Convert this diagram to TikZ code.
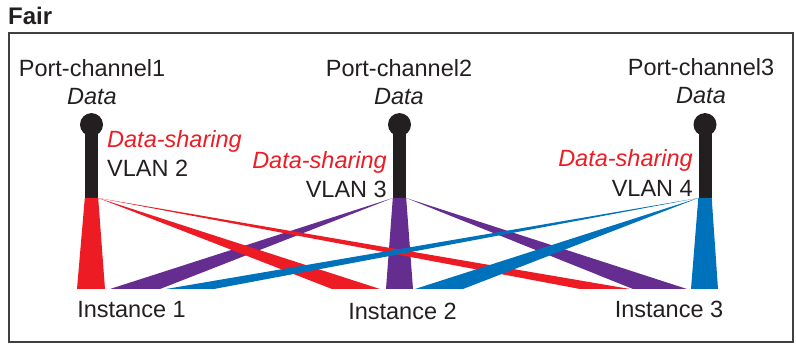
\documentclass[tikz,border=0pt]{standalone}
\usepackage{fontspec}
\setmainfont{Liberation Sans}
\usetikzlibrary{positioning}
\definecolor{fairred}{HTML}{ED1C24}
\definecolor{fairpurple}{HTML}{662D91}
\definecolor{fairblue}{HTML}{0072BC}
\definecolor{poleblack}{HTML}{231F20}
\definecolor{inkgray}{HTML}{231F20}

\begin{document}
\begin{tikzpicture}[
  x=1pt, y=-1pt,
  every node/.style={inner sep=0pt, text=inkgray, font=\fontsize{23.5}{28}\selectfont},
  chan/.style={anchor=base},
  datatxt/.style={anchor=base, font=\fontsize{23.5}{28}\selectfont\itshape},
  share/.style={text=fairred, font=\fontsize{23.5}{28}\selectfont\itshape},
  pole/.style={fill=poleblack, minimum width=13pt, minimum height=73pt, anchor=south},
  frame/.style={draw=black!75, line width=2pt}
]
\useasboundingbox (0,0) rectangle (796,344);

\node[anchor=base west, font=\fontsize{24}{28}\selectfont\bfseries] (fair) at (8,25) {Fair};
\draw[frame] (8.5,33) rectangle (793,342);

% port-channels
\node[chan] (pc1) at (92,77) {Port-channel1};
\node[chan] (pc2) at (399,77) {Port-channel2};
\node[chan] (pc3) at (701,76) {Port-channel3};
\node[datatxt] (data1) at ([yshift=-28pt]pc1.base) {Data};
\node[datatxt] (data2) at ([yshift=-28pt]pc2.base) {Data};
\node[datatxt] (data3) at ([yshift=-28pt]pc3.base) {Data};

\node[pole] (pole1) at (91.5,198) {};
\node[pole] (pole2) at (399.5,198) {};
\node[pole] (pole3) at (705,198) {};
\foreach \p in {1,2,3}
  \fill[poleblack] (pole\p.north) circle (11.5pt);

% shared vlans
\node[share, anchor=base west] (ds1) at (107,148) {Data-sharing};
\node[anchor=base west] (vl1) at ([yshift=-29pt]ds1.base west) {VLAN 2};
\node[share, anchor=base east] (ds2) at (387,169) {Data-sharing};
\node[anchor=base east] (vl2) at ([yshift=-29pt]ds2.base east) {VLAN 3};
\node[share, anchor=base east] (ds3) at (693,167) {Data-sharing};
\node[anchor=base east] (vl3) at ([yshift=-30pt]ds3.base east) {VLAN 4};

% instances
\node[chan] (inst1) at (131.5,317.5) {Instance 1};
\node[chan] (inst2) at (402.5,320) {Instance 2};
\node[chan] (inst3) at (669,317.5) {Instance 3};

% trunks
\foreach \p/\c/\l/\r in {1/fairred/77/105, 2/fairpurple/386/413, 3/fairblue/691/718}
  \fill[\c] (pole\p.south west) -- (pole\p.south east) -- (\r,289) -- (\l,289) -- cycle;

% cross links
\foreach \a/\c/\l/\r in {pole2.south west/fairpurple/110/160, pole2.south east/fairpurple/633/687,
    pole1.south east/fairred/332/380, pole1.south east/fairred/580/630,
    pole3.south west/fairblue/166/214, pole3.south west/fairblue/415/463}
  \fill[\c] (\a) -- (\r,289) -- (\l,289) -- cycle;
\end{tikzpicture}
\end{document}
